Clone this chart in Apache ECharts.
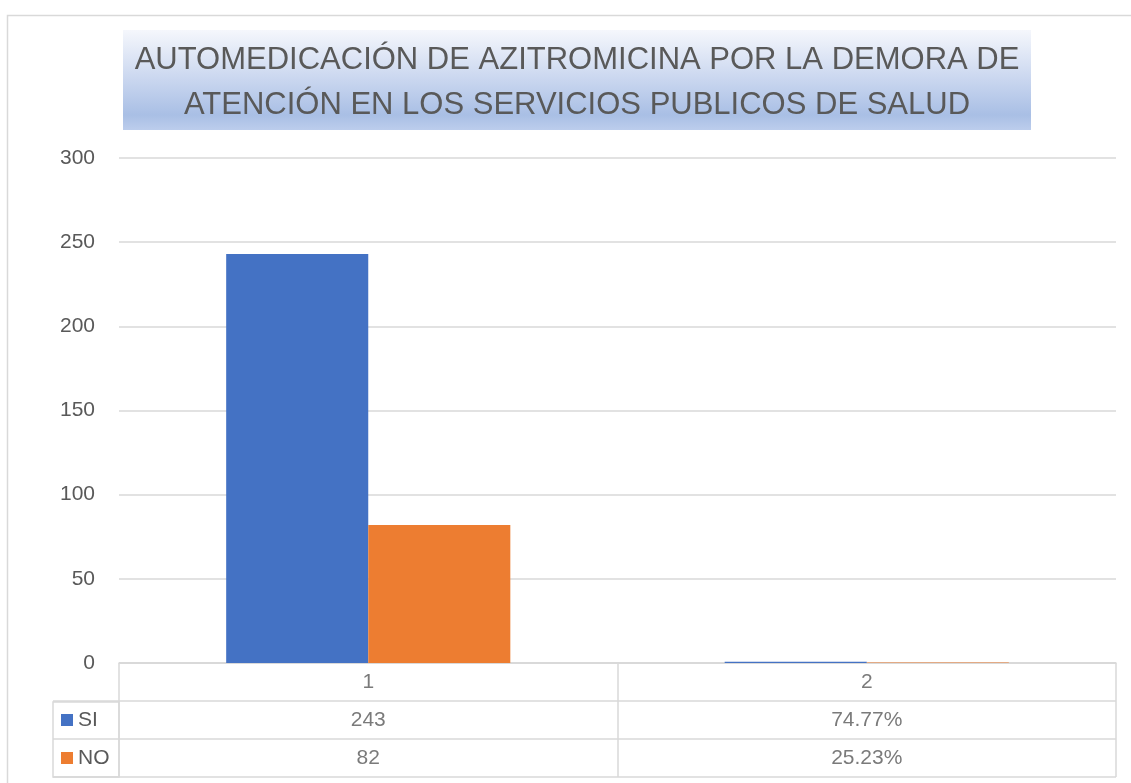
<!DOCTYPE html>
<html>
<head>
<meta charset="utf-8">
<title>Automedicación de azitromicina</title>
<script src="https://cdn.jsdelivr.net/npm/echarts@6/dist/echarts.min.js"></script>
<style>
  html, body { margin: 0; padding: 0; background: #fff; }
  #main { width: 1131px; height: 783px; }
</style>
</head>
<body>
<div id="main"></div>
<script>
// datos de la tabla del grafico
var categories = ['1', '2']
var seriesNames = ['SI', 'NO']
var siValues = [243, 0.7477]
var noValues = [82, 0.2523]
// formato de cada columna (como en la hoja de excel)
var colFormats = ['int', 'pct']
var yTicks = { min: 0, max: 300, interval: 50 }
var titleText = 'AUTOMEDICACIÓN DE AZITROMICINA POR LA DEMORA DE\nATENCIÓN EN LOS SERVICIOS PUBLICOS DE SALUD'

var colors = ['#4472c4', '#ed7d31']
var textColor = '#595959'
var lineColor = '#d9d9d9'
var fontFamily = '"Liberation Sans", Arial, sans-serif'

function fmt (v, col) {
  if (colFormats[col] === 'pct') return (v * 100).toFixed(2) + '%'
  return String(Math.round(v))
}

// celdas de la tabla: fila 0 = categorias, fila 1 = SI, fila 2 = NO
var rows = ['', seriesNames[0], seriesNames[1]]
var cells = []
categories.forEach(function (c, i) {
  cells.push({ value: [i, 0], name: c })
  cells.push({ value: [i, 1], name: fmt(siValues[i], i) })
  cells.push({ value: [i, 2], name: fmt(noValues[i], i) })
})

var chart = echarts.init(document.getElementById('main'))
var option = {
  animation: false,
  color: colors,
  textStyle: { fontFamily: fontFamily },
  graphic: [
    {
      type: 'rect',
      silent: true,
      shape: { x: 7.5, y: 15.5, width: 1300, height: 900 },
      style: { fill: 'none', stroke: lineColor, lineWidth: 1.5 }
    },
    {
      type: 'group',
      left: 123,
      top: 30,
      children: [
        {
          type: 'rect',
          shape: { x: 0, y: 0, width: 908, height: 100 },
          style: {
            fill: new echarts.graphic.LinearGradient(0, 0, 0, 1, [
              { offset: 0, color: '#f5f7fc' },
              { offset: 0.5, color: '#c9d6ef' },
              { offset: 0.85, color: '#a9bfe5' },
              { offset: 1, color: '#bccdec' }
            ])
          }
        },
        {
          type: 'text',
          x: 454,
          y: 53,
          style: {
            text: titleText,
            align: 'center',
            verticalAlign: 'middle',
            fill: textColor,
            font: '31px ' + fontFamily,
            lineHeight: 45
          }
        }
      ]
    }
  ],
  grid: [
    { left: 119, right: 15, top: 158, bottom: 120 },
    { left: 119, right: 15, top: 663, height: 114 },
    { left: 53, width: 66, top: 702, height: 75, show: true, borderColor: lineColor, borderWidth: 1.5 }
  ],
  xAxis: [
    {
      type: 'category',
      data: categories,
      axisLine: { lineStyle: { color: lineColor, width: 1.5 } },
      axisTick: { show: false },
      axisLabel: { show: false }
    },
    {
      type: 'category',
      gridIndex: 1,
      data: categories,
      axisLine: { show: false },
      axisTick: { show: false },
      axisLabel: { show: false },
      splitLine: { show: true, lineStyle: { color: lineColor, width: 1.5 } }
    }
  ],
  yAxis: [
    {
      type: 'value',
      min: yTicks.min,
      max: yTicks.max,
      interval: yTicks.interval,
      axisLine: { show: false },
      axisTick: { show: false },
      axisLabel: { color: textColor, fontSize: 21, margin: 24 },
      splitLine: { lineStyle: { color: lineColor, width: 1.5 } }
    },
    {
      type: 'category',
      gridIndex: 1,
      inverse: true,
      data: rows,
      axisLine: { show: false },
      axisTick: {
        show: true,
        length: 66,
        interval: function (idx) { return idx > 0 },
        lineStyle: { color: lineColor, width: 1.5 }
      },
      axisLabel: {
        align: 'left',
        margin: 58,
        formatter: function (v) {
          if (v === seriesNames[0]) return '{a|}{t|' + v + '}'
          if (v === seriesNames[1]) return '{b|}{t|' + v + '}'
          return ''
        },
        color: textColor,
        fontSize: 21,
        rich: {
          a: { backgroundColor: colors[0], width: 12, height: 12 },
          b: { backgroundColor: colors[1], width: 12, height: 12 },
          t: { color: textColor, fontSize: 21, padding: [0, 0, 0, 5] }
        }
      },
      splitLine: { show: true, lineStyle: { color: lineColor, width: 1.5 } }
    }
  ],
  series: [
    {
      name: seriesNames[0],
      type: 'bar',
      data: siValues,
      barGap: '0%',
      barCategoryGap: '43%'
    },
    {
      name: seriesNames[1],
      type: 'bar',
      data: noValues,
      barGap: '0%',
      barCategoryGap: '43%'
    },
    {
      type: 'scatter',
      xAxisIndex: 1,
      yAxisIndex: 1,
      symbolSize: 0,
      silent: true,
      data: cells,
      label: {
        show: true,
        position: 'inside',
        formatter: function (p) { return p.name },
        color: textColor,
        fontSize: 21,
        fontFamily: fontFamily
      }
    }
  ]
}
chart.setOption(option)
</script>
</body>
</html>
